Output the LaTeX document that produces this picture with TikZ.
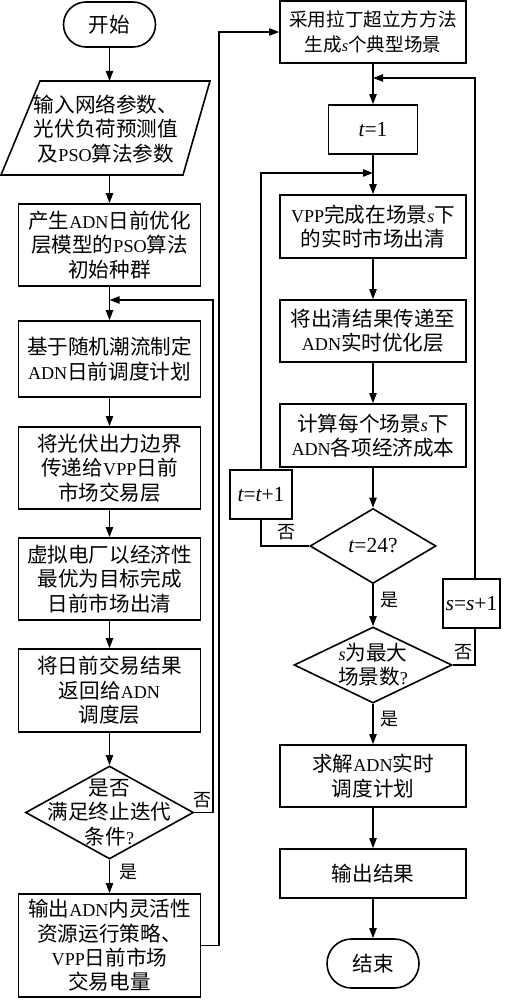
\documentclass[tikz,border=0pt]{standalone}
\usepackage{fontspec}
\setmainfont{Noto Sans CJK SC}
\newfontfamily\latf{Liberation Serif}[Scale=0.88]
\newcommand{\la}[1]{{\latf #1}}
\newcommand{\iv}[1]{{\latf\itshape #1}}
\usetikzlibrary{shapes.geometric,shapes.misc,arrows.meta}
\begin{document}
\begin{tikzpicture}[x=0.5pt,y=-0.5pt,
  line width=0.8pt,
  >={Triangle[length=5pt,width=3.6pt]},
  every node/.style={font=\fontsize{10.3}{12.2}\selectfont},
  box/.style={draw,rectangle,align=center,inner sep=0pt,minimum width=93pt},
  lbox/.style={draw,rectangle,align=center,inner sep=0pt,minimum width=91pt},
  term/.style={draw,rounded rectangle,inner sep=0pt,minimum width=46pt},
  dia/.style={draw,diamond,inner sep=0pt},
  txt/.style={align=center,inner sep=0pt},
  frm/.style={font=\fontsize{12.2}{12.2}\selectfont},
  lbl/.style={font=\fontsize{9}{9}\selectfont,inner sep=0pt}
]
\useasboundingbox (0,0) rectangle (510,1000);

% ---- left column ----
\node[term,minimum height=22.5pt] (start) at (109.5,24.5) {开始};
\coordinate (pt) at (109.5,81);
\coordinate (pb) at (109.5,175);
\draw (1,175) -- (40,81) -- (210,81) -- (183,175) -- cycle;
\node[txt] (para) at (106,129) {输入网络参数、\\光伏负荷预测值\\及\la{PSO}算法参数};
\node[lbox,minimum height=41pt] (b3) at (109.5,245) {产生\la{ADN}日前优化\\层模型的\la{PSO}算法\\初始种群};
\node[lbox,minimum height=38pt] (b4) at (109.5,359) {基于随机潮流制定\\\la{ADN}日前调度计划};
\node[lbox,minimum height=41pt] (b5) at (109.5,468) {将光伏出力边界\\传递给\la{VPP}日前\\市场交易层};
\node[lbox,minimum height=41pt] (b6) at (109.5,579) {虚拟电厂以经济性\\最优为目标完成\\日前市场出清};
\node[lbox,minimum height=41.5pt] (b7) at (109.5,690.5) {将日前交易结果\\返回给\la{ADN}\\调度层};
\node[dia,minimum width=84pt,minimum height=46.5pt] (d1) at (109.5,812.5) {};
\node[txt] (d1t) at (d1) {是否\\满足终止迭代\\条件\la{?}};
\node[lbox,minimum height=51.5pt] (b8) at (109.5,945.5) {输出\la{ADN}内灵活性\\资源运行策略、\\\la{VPP}日前市场\\交易电量};

% ---- right column ----
\node[box,minimum height=31pt,font=\fontsize{9.3}{12.2}\selectfont] (r1) at (373,32) {采用拉丁超立方方法\\生成\iv{s}个典型场景};
\node[box,frm,minimum width=44.5pt,minimum height=24.5pt] (r2) at (373,129.5) {\iv{t}\la{=1}};
\node[box,minimum height=31.5pt] (r3) at (373,226.5) {\la{VPP}完成在场景\iv{s}下\\的实时市场出清};
\node[box,minimum height=31pt] (r4) at (373,331) {将出清结果传递至\\\la{ADN}实时优化层};
\node[box,minimum height=31.5pt] (r5) at (373,435.5) {计算每个场景\iv{s}下\\\la{ADN}各项经济成本};
\node[box,frm,minimum width=31pt,minimum height=24.5pt] (tt) at (261,494.5) {\iv{t}\la{=}\iv{t}\la{+1}};
\node[dia,minimum width=63pt,minimum height=37.5pt] (d2) at (373,546) {};
\node[txt,frm] (d2t) at (d2) {\iv{t}\la{=24?}};
\node[dia,minimum width=79pt,minimum height=38pt] (d3) at (373,665) {};
\node[txt] (d3t) at (d3) {\iv{s}为最大\\场景数\la{?}};
\node[box,frm,minimum width=28.5pt,minimum height=24.5pt] (ss) at (471.5,603.5) {\iv{s}\la{=}\iv{s}\la{+1}};
\node[box,minimum height=31pt] (r6) at (373,776) {求解\la{ADN}实时\\调度计划};
\node[box,minimum height=24.5pt] (r7) at (373,873.5) {输出结果};
\node[term,minimum height=24.5pt] (end) at (373,963.5) {结束};

% ---- helper coordinates ----
\coordinate (f1) at (213,300);
\coordinate (f2) at (219,32);
\coordinate (f3) at (475,78);
\coordinate (f4) at (261,173);

% ---- connectors left ----
\draw[->] (start.south) -- (pt);
\draw[->] (pb) -- (b3.north);
\draw[->] (b3.south) -- (b4.north);
\draw[->] (b4.south) -- (b5.north);
\draw[->] (b5.south) -- (b6.north);
\draw[->] (b6.south) -- (b7.north);
\draw[->] (b7.south) -- (d1.north);
\draw[->] (d1.south) -- (b8.north);
\draw[->] (d1.east) -| (f1) -- (b3.south |- f1);
\draw[->] (b8.east) -| (f2) -- (r1.west);

% ---- connectors right ----
\draw[->] (r1.south) -- (r2.north);
\draw[->] (r2.south) -- (r3.north);
\draw[->] (r3.south) -- (r4.north);
\draw[->] (r4.south) -- (r5.north);
\draw[->] (r5.south) -- (d2.north);
\draw[->] (d2.south) -- (d3.north);
\draw[->] (d3.south) -- (r6.north);
\draw[->] (r6.south) -- (r7.north);
\draw[->] (r7.south) -- (end.north);
\draw (d2.west) -| (tt.south);
\draw[->] (tt.north) -- (f4) -- (r3.north |- f4);
\draw (d3.east) -| (ss.south -| f3);
\draw[->] (ss.north -| f3) -- (f3) -- (r1.south |- f3);

% ---- labels ----
\node[lbl] (n1) at (202,800) {否};
\node[lbl] (y1) at (128,872) {是};
\node[lbl] (n2) at (286,532) {否};
\node[lbl] (y2) at (389,600) {是};
\node[lbl] (n3) at (463,652) {否};
\node[lbl] (y3) at (389,719) {是};
\end{tikzpicture}
\end{document}
